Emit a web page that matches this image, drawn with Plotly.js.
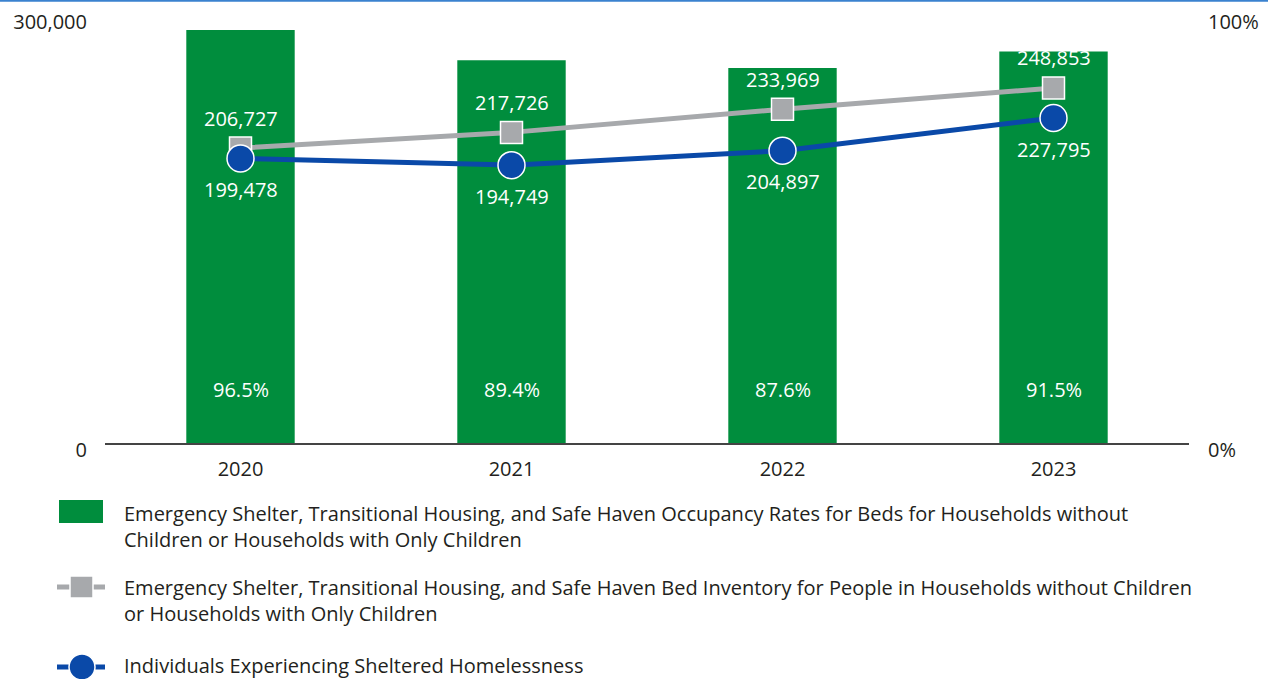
<!DOCTYPE html>
<html><head><meta charset="utf-8">
<script src="https://cdn.plot.ly/plotly-3.0.1.min.js"></script>
<style>html,body{margin:0;padding:0;background:#fff;}#chart{width:1272px;height:679px;}</style>
</head><body><div id="chart"></div>
<script>
const years = ['2020','2021','2022','2023'];
const occupancyRate = [0.965, 0.894, 0.876, 0.915];
const occupancyLabels = ['96.5%','89.4%','87.6%','91.5%'];
const bedInventory = [206727, 217726, 233969, 248853];
const shelteredIndividuals = [199478, 194749, 204897, 227795];
const legendNames = [
  'Emergency Shelter, Transitional Housing, and Safe Haven Occupancy Rates for Beds for Households without<br>Children or Households with Only Children',
  'Emergency Shelter, Transitional Housing, and Safe Haven Bed Inventory for People in Households without Children<br>or Households with Only Children',
  'Individuals Experiencing Sheltered Homelessness'
];

const GREEN = '#008d3d', GRAY = '#a7a9ac', BLUE = '#0a49a8';
const FONT = '"Open Sans", Lato, sans-serif';
const FS = 20;
const W = 1272, H = 679, L = 105, R = 83, T = 15, B = 236;
const PW = W - L - R, PH = H - T - B;
const px = x => (x - L) / PW;
const py = y => (H - B - y) / PH;
const fmt = v => v.toLocaleString('en-US');

const traces = [
  {type:'bar', x: years, y: occupancyRate, yaxis:'y', marker:{color: GREEN}, width:0.4,
   name: legendNames[0], hoverinfo:'skip'},
  {type:'scatter', mode:'lines+markers', x: years, y: bedInventory, yaxis:'y2', name: legendNames[1],
   line:{color: GRAY, width:5}, marker:{symbol:'square', size:22, color: GRAY, line:{color:'#fff', width:1.5}}},
  {type:'scatter', mode:'lines+markers', x: years, y: shelteredIndividuals, yaxis:'y2', name: legendNames[2],
   line:{color: BLUE, width:5}, marker:{symbol:'circle', size:27, color: BLUE, line:{color:'#fff', width:1.5}}}
];

const annotations = [];
years.forEach((yr, i) => {
  annotations.push({x: i, y: 0.124, xref:'x', yref:'y', text: occupancyLabels[i], showarrow:false,
    font:{family: FONT, size:FS, color:'#fff'}});
  annotations.push({x: i, y: bedInventory[i], xref:'x', yref:'y2', text: fmt(bedInventory[i]), showarrow:false,
    yshift: 30, font:{family: FONT, size:FS, color:'#fff'}});
  annotations.push({x: i, y: shelteredIndividuals[i], xref:'x', yref:'y2', text: fmt(shelteredIndividuals[i]), showarrow:false,
    yshift: -31, font:{family: FONT, size:FS, color:'#fff'}});
});

// custom legend
const shapes = [
  {type:'line', xref:'paper', yref:'paper', x0: px(0), x1: px(1268), y0: py(0.8), y1: py(0.8), line:{color:'#3a82cf', width:2}},
  {type:'rect', xref:'paper', yref:'paper', x0: px(59), x1: px(103), y0: py(500), y1: py(523), fillcolor: GREEN, line:{width:0}},
  {type:'line', xref:'paper', yref:'paper', x0: px(57), x1: px(105), y0: py(587), y1: py(587), line:{color: GRAY, width:5}},
  {type:'rect', xref:'paper', yref:'paper', x0: px(70), x1: px(93), y0: py(576), y1: py(598), fillcolor: GRAY, line:{color:'#fff', width:1.5}},
  {type:'line', xref:'paper', yref:'paper', x0: px(57), x1: px(105), y0: py(667), y1: py(667), line:{color: BLUE, width:5}},
  {type:'circle', xref:'paper', yref:'paper', x0: px(69), x1: px(95), y0: py(654), y1: py(680), fillcolor: BLUE, line:{color:'#fff', width:1.5}}
];
const legendY = [526, 600, 665];
legendNames.forEach((nm, i) => {
  annotations.push({xref:'paper', yref:'paper', x: px(122), y: py(legendY[i]), xanchor:'left', yanchor:'middle',
    align:'left', text: nm, showarrow:false, font:{family: FONT, size:FS, color:'#231f20'}});
});

const layout = {
  width: W, height: H, margin:{l:L, r:R, t:T, b:B},
  paper_bgcolor:'#fff', plot_bgcolor:'#fff', showlegend:false,
  font:{family: FONT, size:FS, color:'#231f20'},
  xaxis:{type:'category', range:[-0.5,3.5], showline:true, linecolor:'#444', linewidth:1.5,
    showgrid:false, ticks:'', tickfont:{size:FS}, ticklabelstandoff: 7, fixedrange:true},
  yaxis:{range:[0,1], side:'right', tickvals:[0,1], ticktext:['0%','100%'], showgrid:false,
    zeroline:false, showline:false, ticks:'', ticklabelstandoff:18, ticklabelshift:7, tickfont:{size:FS}},
  yaxis2:{range:[0,300000], overlaying:'y', side:'left', tickvals:[0,300000], ticktext:['0','300,000'], showgrid:false, zeroline:false,
    showline:false, ticks:'', ticklabelstandoff:17, ticklabelshift:7, tickfont:{size:FS}},
  annotations: annotations, shapes: shapes
};
Plotly.newPlot('chart', traces, layout, {displayModeBar:false, staticPlot:true});
</script></body></html>
